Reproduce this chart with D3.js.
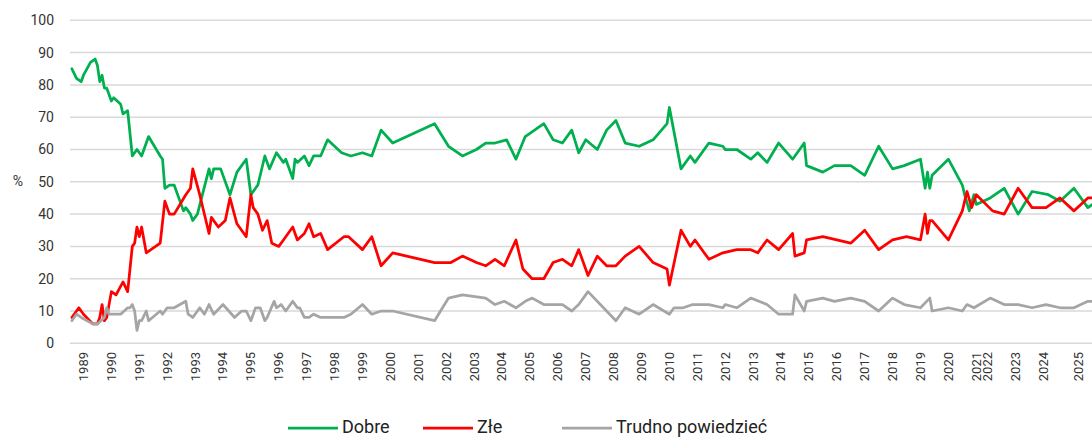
<!DOCTYPE html>
<html>
<head>
<meta charset="utf-8">
<script src="https://cdn.jsdelivr.net/npm/d3@7"></script>
<style>
  body { margin: 0; background: #fff; }
  svg { display: block; font-family: Roboto, "Noto Sans", sans-serif; }
</style>
</head>
<body>
<div id="chart"></div>
<script>
// x = survey slot on the category axis (one slot ~ one month, slot 0 = first label)
const yearLabels = d3.range(1989, 2026).map(String);
const yearSlots = [0, 12, 24, 36, 48, 60, 72, 84, 96, 108, 120, 132, 144, 156, 168, 180,
  192, 204, 216, 228, 240, 252, 264, 276, 288, 300, 312, 324, 336, 348, 360, 372, 384,
  389, 401, 413, 428];
const yTicks = [0, 10, 20, 30, 40, 50, 60, 70, 80, 90, 100];

const dobre = [[-5,85],[-3,82],[-1,81],[0,83],[3,87],[5,88],[6,86],[7,81],[8,83],[9,79],[10,79],
  [12,75],[13,76],[16,74],[17,71],[19,72],[21,58],[23,60],[25,58],[28,64],[33,58],[34,57],
  [35,48],[37,49],[39,49],[43,41],[44,42],[46,40],[47,38],[49,40],[54,54],[55,51],[56,54],
  [59,54],[63,46],[66,53],[70,57],[72,46],[75,49],[78,58],[80,54],[83,59],[86,56],[87,57],
  [90,51],[91,57],[92,56],[95,58],[97,55],[99,58],[102,58],[105,63],[111,59],[115,58],
  [120,59],[124,58],[128,66],[133,62],[151,68],[157,61],[163,58],[169,60],[173,62],[177,62],
  [182,63],[186,57],[190,64],[198,68],[202,63],[206,62],[210,66],[213,59],[216,63],[221,60],
  [225,66],[229,69],[233,62],[239,61],[245,63],[251,68],[252,73],[257,54],[261,58],[263,56],
  [269,62],[275,61],[276,60],[281,60],[287,57],[290,59],[294,56],[299,62],[305,57],[310,62],
  [311,55],[318,53],[323,55],[330,55],[336,52],[342,61],[348,54],[353,55],[360,57],[362,48],
  [363,53],[364,48],[365,52],[372,57],[378,49],[379,46],[381,41],[383,46],[384,43],[390,45],
  [396,48],[402,40],[408,47],[415,46],[420,44],[426,48],[432,42],[434,43]];

const zle = [[-5,8],[-2,11],[0,9],[4,6],[6,6],[7,8],[8,12],[9,7],[10,8],[12,16],[14,15],
  [17,19],[19,16],[21,30],[22,31],[23,36],[24,33],[25,36],[27,28],[29,29],[33,31],[35,44],
  [37,40],[39,40],[44,46],[46,48],[47,54],[50,46],[54,34],[55,39],[58,36],[61,38],[63,45],
  [66,37],[70,33],[72,46],[73,42],[75,40],[77,35],[79,38],[81,31],[84,30],[86,32],[87,33],
  [90,36],[92,32],[95,34],[97,37],[99,33],[102,34],[105,29],[112,33],[114,33],[120,29],
  [124,33],[128,24],[133,28],[151,25],[158,25],[163,27],[169,25],[173,24],[177,26],[181,24],
  [186,32],[189,23],[193,20],[198,20],[202,25],[206,26],[210,24],[213,29],[217,21],[221,27],
  [225,24],[229,24],[233,27],[239,30],[245,25],[251,23],[252,18],[257,35],[261,30],[263,32],
  [269,26],[275,28],[281,29],[287,29],[290,28],[294,32],[299,29],[305,34],[306,27],[310,28],
  [311,32],[318,33],[330,31],[336,35],[342,29],[348,32],[354,33],[360,32],[362,40],[363,34],
  [364,38],[365,38],[372,32],[378,41],[380,47],[382,42],[384,46],[391,41],[396,40],[402,48],
  [408,42],[414,42],[420,45],[426,41],[432,45],[434,45]];

const trudno = [[-5,7],[-3,9],[-1,8],[4,6],[6,6],[9,8],[10,11],[11,9],[16,9],[19,11],[20,11],
  [21,12],[22,10],[23,4],[24,7],[25,7],[27,10],[28,7],[33,10],[34,9],[36,11],[39,11],[44,13],
  [45,9],[47,8],[50,11],[52,9],[54,12],[56,9],[60,12],[65,8],[68,10],[70,10],[72,7],[74,11],
  [76,11],[78,7],[79,8],[82,13],[83,11],[85,12],[87,10],[90,13],[92,11],[93,11],[95,8],
  [97,8],[99,9],[102,8],[112,8],[115,9],[120,12],[124,9],[128,10],[133,10],[151,7],[157,14],
  [163,15],[173,14],[177,12],[181,13],[186,11],[190,13],[193,14],[198,12],[206,12],[210,10],
  [213,12],[217,16],[229,7],[233,11],[239,9],[245,12],[252,9],[254,11],[258,11],[262,12],
  [269,12],[275,11],[276,12],[281,11],[287,14],[294,12],[299,9],[305,9],[306,15],[310,10],
  [311,13],[318,14],[323,13],[330,14],[336,13],[342,10],[348,14],[353,12],[360,11],[364,14],
  [365,10],[372,11],[378,10],[380,12],[383,11],[390,14],[396,12],[402,12],[408,11],[414,12],
  [420,11],[426,11],[432,13],[434,13]];

const seriesNames = ["Dobre", "Złe", "Trudno powiedzieć"];
const seriesColors = ["#00b050", "#ff0000", "#a5a5a5"];
const seriesData = [dobre, zle, trudno];

const width = 1092, height = 438;
const margin = {top: 20, right: 0, bottom: 95, left: 70};

const svg = d3.select("#chart").append("svg")
    .attr("width", width)
    .attr("height", height);

const x = d3.scaleLinear().domain([-5.8, 434.2]).range([margin.left, 1093]);
const y = d3.scaleLinear().domain([0, 100]).range([343.3, 20.3]);

// gridlines
svg.append("g")
  .selectAll("line")
  .data(yTicks)
  .join("line")
    .attr("x1", margin.left)
    .attr("x2", width)
    .attr("y1", d => y(d))
    .attr("y2", d => y(d))
    .attr("stroke", "#d9d9d9")
    .attr("stroke-width", 1.5);

// y axis labels
const yAxis = d3.axisLeft(y).tickValues(yTicks).tickSize(0).tickPadding(0);
svg.append("g")
    .attr("transform", "translate(54,0)")
    .call(yAxis)
    .call(g => g.select(".domain").remove())
    .call(g => g.selectAll("text")
      .attr("font-family", "Roboto, sans-serif")
      .attr("font-size", 14)
      .attr("fill", "#333"));

svg.append("text")
    .attr("x", 18)
    .attr("y", y(50))
    .attr("text-anchor", "middle")
    .attr("dominant-baseline", "middle")
    .attr("font-size", 14)
    .attr("fill", "#333")
    .text("%");

// x axis year labels (rotated)
svg.append("g")
  .selectAll("text")
  .data(yearLabels)
  .join("text")
    .attr("transform", (d, i) => `translate(${x(yearSlots[i])},352) rotate(-90)`)
    .attr("text-anchor", "end")
    .attr("dominant-baseline", "central")
    .attr("font-size", 13)
    .attr("fill", "#333")
    .text(d => d);

// lines
const line = d3.line()
    .x(d => x(d[0]))
    .y(d => y(d[1]));

svg.append("g")
  .selectAll("path")
  .data(seriesData)
  .join("path")
    .attr("d", line)
    .attr("fill", "none")
    .attr("stroke", (d, i) => seriesColors[i])
    .attr("stroke-width", 2.75)
    .attr("stroke-linejoin", "round")
    .attr("stroke-linecap", "round");

// legend
const legendX = [288, 423, 562];
const legend = svg.append("g")
  .selectAll("g")
  .data(seriesNames)
  .join("g")
    .attr("transform", (d, i) => `translate(${legendX[i]},428)`);

legend.append("line")
    .attr("x1", 0)
    .attr("x2", 50)
    .attr("stroke", (d, i) => seriesColors[i])
    .attr("stroke-width", 2.75);

legend.append("text")
    .attr("x", 54)
    .attr("y", -2)
    .attr("dominant-baseline", "central")
    .attr("font-size", 18)
    .attr("fill", "#222")
    .text(d => d);
</script>
</body>
</html>
